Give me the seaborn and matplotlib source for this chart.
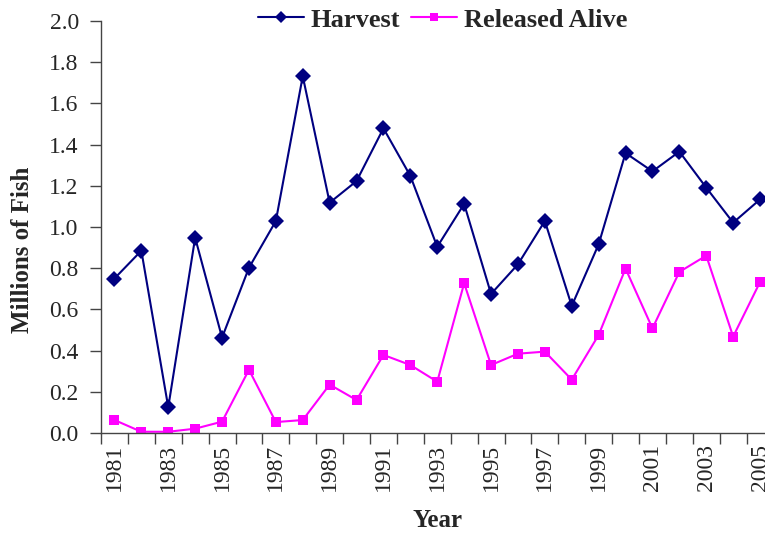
import matplotlib
matplotlib.use("Agg")
import matplotlib.pyplot as plt
import seaborn as sns
import pandas as pd
from matplotlib.ticker import FixedLocator, NullFormatter

years = list(range(1981, 2006))
harvest = [0.75, 0.885, 0.125, 0.948, 0.463, 0.802, 1.029, 1.732, 1.118, 1.223,
           1.479, 1.248, 0.904, 1.112, 0.675, 0.819, 1.029, 0.617, 0.916, 1.359,
           1.270, 1.366, 1.191, 1.021, 1.134]
released = [0.063, 0.006, 0.006, 0.021, 0.055, 0.307, 0.053, 0.063, 0.235, 0.160,
            0.379, 0.330, 0.249, 0.727, 0.330, 0.385, 0.395, 0.259, 0.476, 0.798,
            0.508, 0.782, 0.861, 0.468, 0.733]
series_names = ["Harvest", "Released Alive"]
y_ticks = [0.0, 0.2, 0.4, 0.6, 0.8, 1.0, 1.2, 1.4, 1.6, 1.8, 2.0]
x_label_years = [y for y in years if y % 2 == 1]

df = pd.DataFrame({
    "Year": years * 2,
    "Value": harvest + released,
    "Series": [series_names[0]] * len(years) + [series_names[1]] * len(years),
})

sns.set_style("ticks")
plt.rcParams["font.family"] = ["Liberation Serif", "DejaVu Serif"]

W, H = 765, 535
fig = plt.figure(figsize=(W / 100, H / 100), dpi=100)
ax = fig.add_axes([101 / W, (H - 433) / H, (773.5 - 101) / W, (433 - 21) / H])

palette = {"Harvest": "#000080", "Released Alive": "#FF00FF"}
markers = {"Harvest": "D", "Released Alive": "s"}
sns.lineplot(data=df, x="Year", y="Value", hue="Series", style="Series",
             palette=palette, markers=markers, dashes=False, markersize=8,
             markeredgewidth=0, linewidth=1.5, ax=ax)
for ln in ax.lines:
    if ln.get_marker() == "s":
        ln.set_markersize(7.5)

ax.set_xlim(1980.5, 2005.5)
ax.set_ylim(0, 2.0)
ax.set_yticks(y_ticks)
ax.set_yticklabels([f"{v:.1f}" for v in y_ticks])
ax.set_xticks(x_label_years)
ax.set_xticklabels([str(y) for y in x_label_years], rotation=90)
ax.xaxis.set_minor_locator(FixedLocator([y - 0.5 for y in years] + [2005.5]))
ax.xaxis.set_minor_formatter(NullFormatter())
ax.tick_params(axis="x", which="major", length=0, pad=8, labelsize=17)
ax.tick_params(axis="x", which="minor", length=8, width=1, color="#444444")
ax.tick_params(axis="y", length=8, width=1, pad=8, labelsize=17, color="#444444")

for s in ["top", "right"]:
    ax.spines[s].set_visible(False)
for s in ["left", "bottom"]:
    ax.spines[s].set_color("#444444")
    ax.spines[s].set_linewidth(1)

ax.set_ylabel("Millions of Fish", fontsize=18, fontweight="bold")
ax.yaxis.set_label_coords(-0.099, (433 - 250) / 412)
ax.set_xlabel("Year", fontsize=18, fontweight="bold", labelpad=13)

leg = ax.legend(loc="center", bbox_to_anchor=(442.5 / W, (H - 20) / H),
                bbox_transform=fig.transFigure,
                ncol=2, frameon=False, prop={"weight": "bold", "size": 19},
                handlelength=1.75, columnspacing=0.4, handletextpad=0.25,
                borderpad=0, borderaxespad=0)
for h in leg.legend_handles:
    h.set_markersize(6)

fig.savefig("out.png", dpi=100)
